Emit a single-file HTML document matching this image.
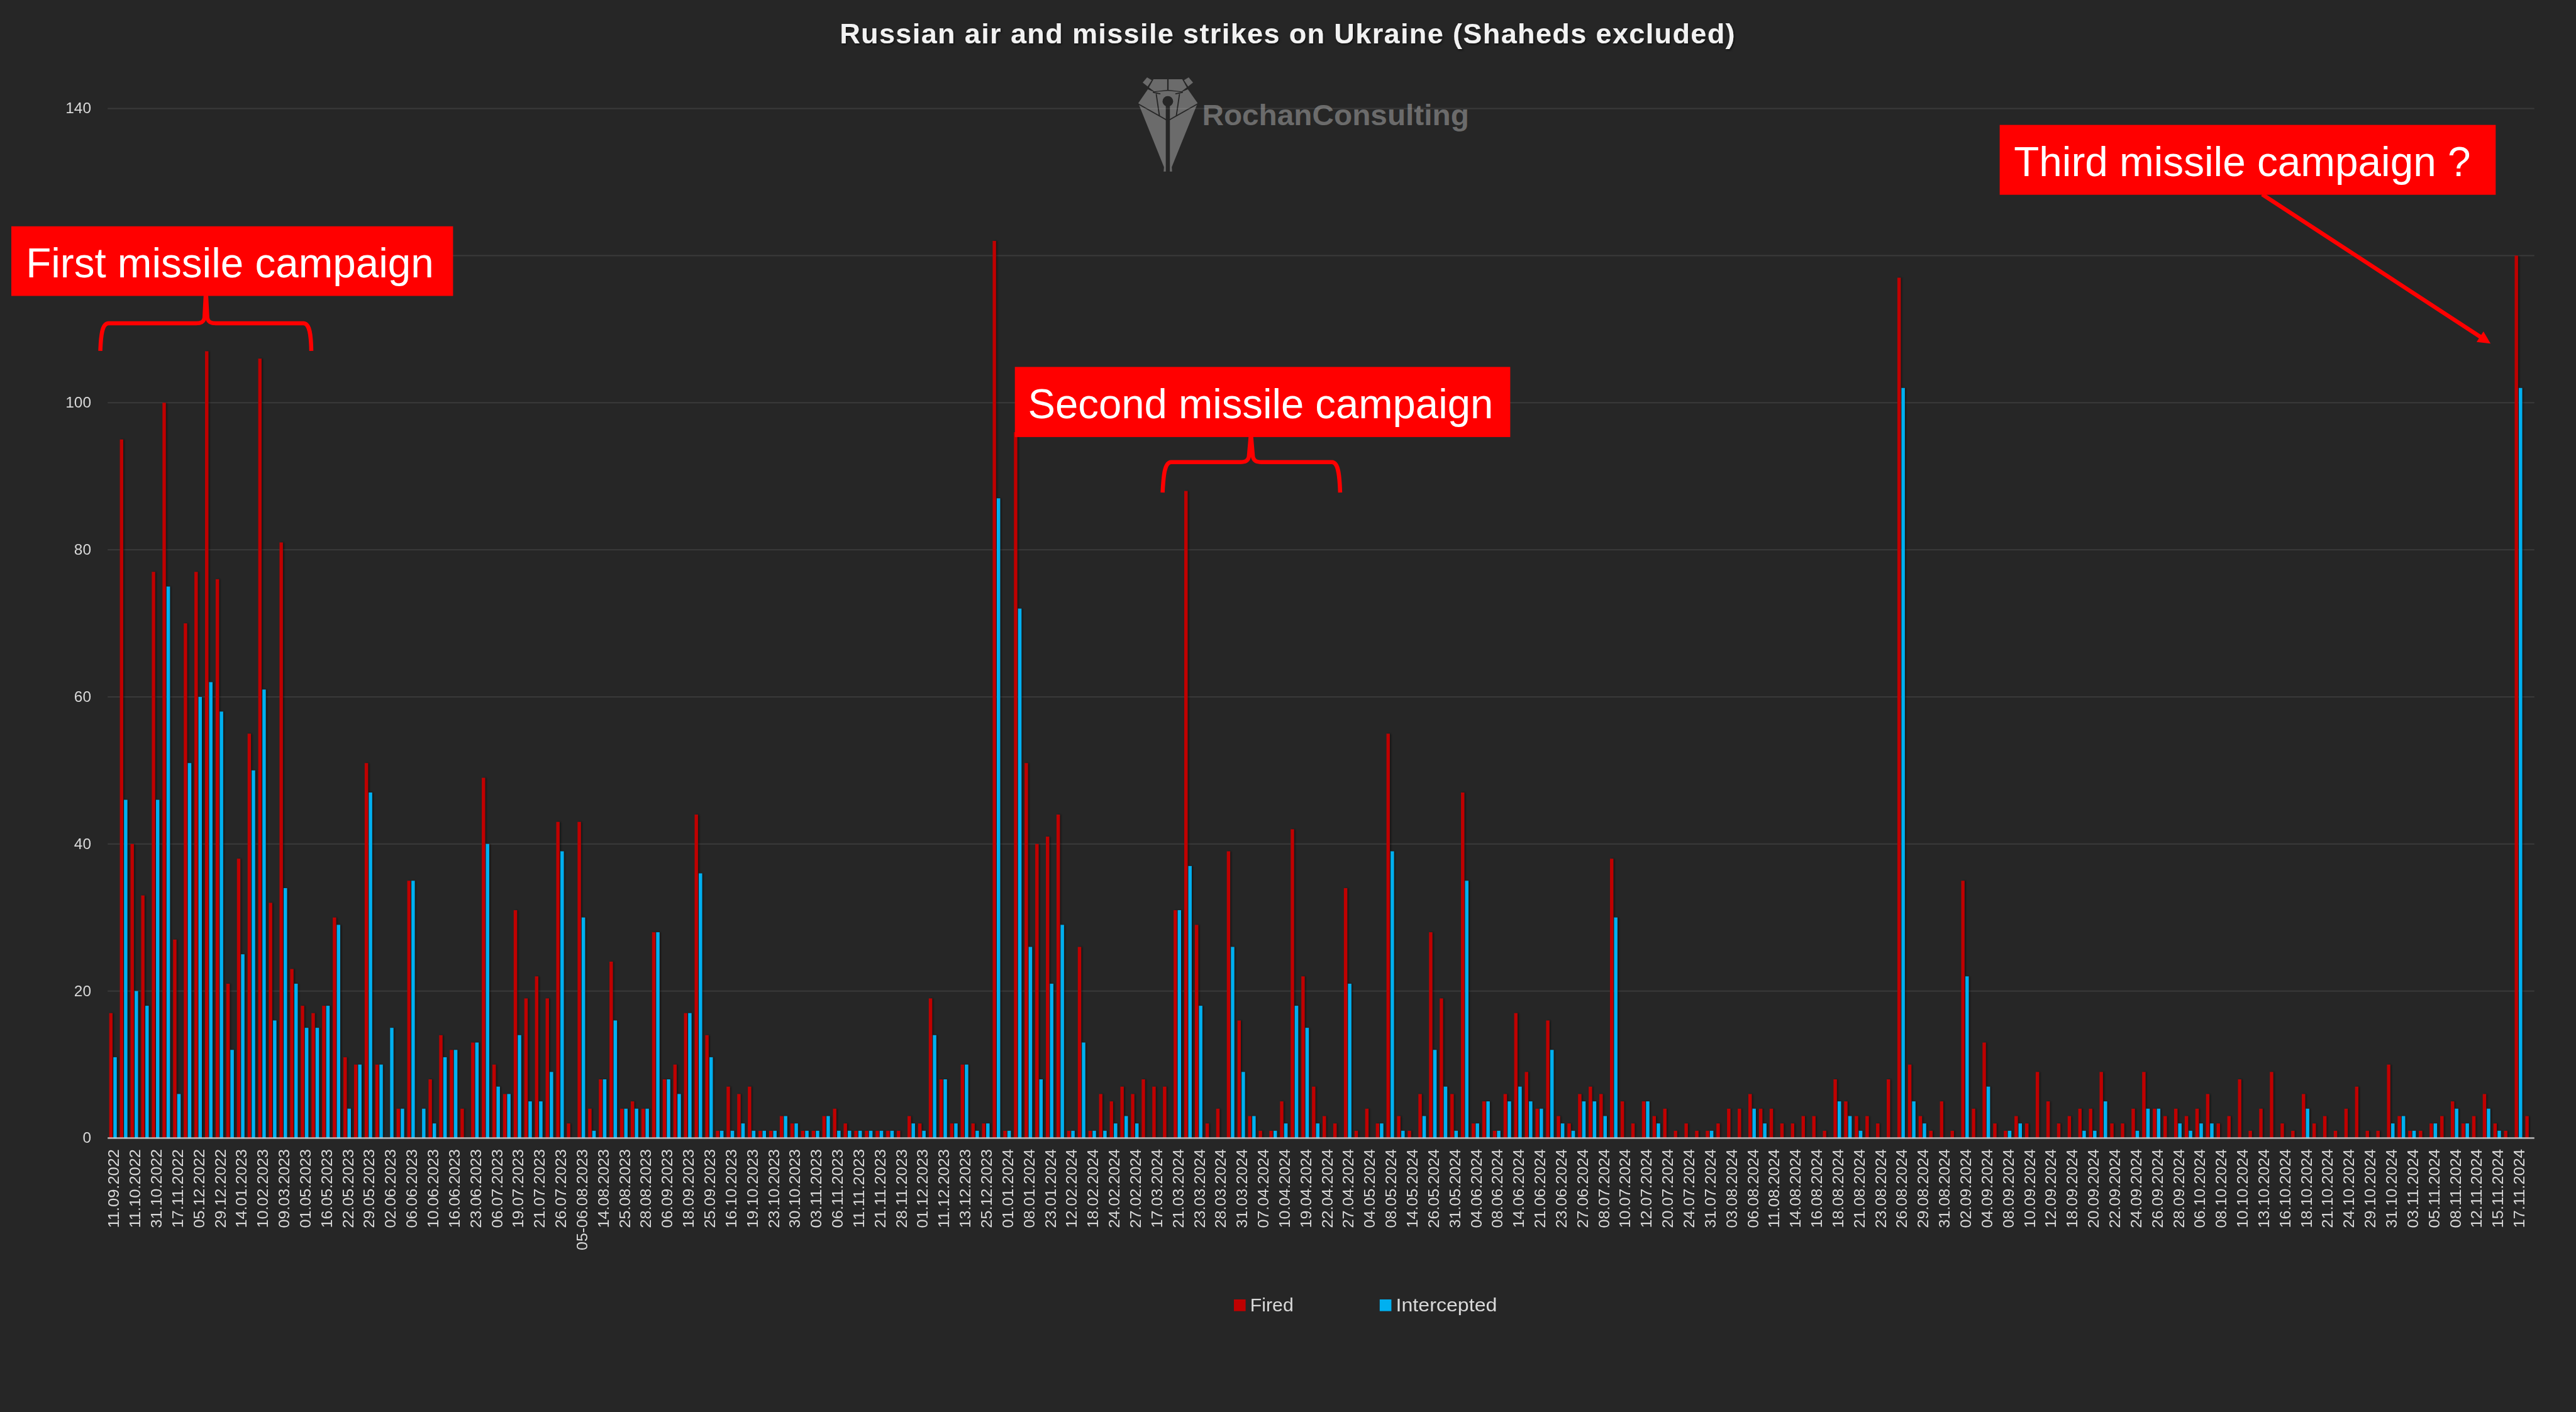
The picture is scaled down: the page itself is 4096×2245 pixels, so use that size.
<!DOCTYPE html><html><head><meta charset="utf-8"><title>Russian air and missile strikes on Ukraine (Shaheds excluded)</title>
<style>html,body{margin:0;padding:0;background:#262626;}body{width:4096px;height:2245px;overflow:hidden;}svg{display:block;}.ov{position:absolute;left:0;top:0;will-change:transform;}text{font-family:"Liberation Sans", Arial, sans-serif;}</style></head><body>
<svg width="4096" height="2245" viewBox="0 0 4096 2245">
<rect x="0" y="0" width="4096" height="2245" fill="#262626"/>
<g id="logo">
<svg x="1800" y="115" width="110" height="165" viewBox="0 0 941 1412">
<g fill="#6B6B6B">
<polygon points="145,140 205,68 268,108 212,192"/>
<polygon points="830,140 770,68 707,108 763,192"/>
<polygon points="230,205 292,95 478,95 478,240 300,258"/>
<polygon points="497,95 683,95 745,205 675,258 497,240"/>
<polygon points="85,420 215,232 300,268 487,252 675,268 760,232 892,420 540,1290 545,1350 510,1350 487,1300 465,1350 430,1350 435,1290"/>
</g>
<g stroke="#262626" stroke-width="16" fill="none" stroke-linecap="round">
<polyline points="80,428 470,648"/><polyline points="895,428 505,648"/>
<polyline points="330,300 372,590"/><polyline points="645,300 603,590"/>
<polyline points="290,272 380,292"/><polyline points="595,292 685,272"/>
</g>
<circle cx="487" cy="395" r="72" fill="#262626"/>
<rect x="459" y="430" width="56" height="935" fill="#262626"/>
</svg>
<text x="1911.4" y="199.2" font-size="46" font-weight="bold" fill="#6B6B6B" textLength="424.5" lengthAdjust="spacingAndGlyphs">RochanConsulting</text>
</g>
<rect x="171.2" y="1574.74" width="3858.6" height="2" fill="#FFFFFF" fill-opacity="0.095"/>
<rect x="171.2" y="1340.88" width="3858.6" height="2" fill="#FFFFFF" fill-opacity="0.095"/>
<rect x="171.2" y="1107.02" width="3858.6" height="2" fill="#FFFFFF" fill-opacity="0.095"/>
<rect x="171.2" y="873.16" width="3858.6" height="2" fill="#FFFFFF" fill-opacity="0.095"/>
<rect x="171.2" y="639.3" width="3858.6" height="2" fill="#FFFFFF" fill-opacity="0.095"/>
<rect x="171.2" y="405.44" width="3858.6" height="2" fill="#FFFFFF" fill-opacity="0.095"/>
<rect x="171.2" y="171.58" width="3858.6" height="2" fill="#FFFFFF" fill-opacity="0.095"/>
<defs><filter id="sh" x="-0.01" y="-0.01" width="1.02" height="1.02"><feDropShadow dx="2" dy="0" stdDeviation="1.6" flood-color="#000" flood-opacity="0.45"/></filter></defs>
<g filter="url(#sh)">
<rect x="173.7" y="1610.82" width="5.3" height="198.78" fill="#C00000"/>
<rect x="180.3" y="1680.98" width="5.3" height="128.62" fill="#00B0F0"/>
<rect x="190.62" y="698.76" width="5.3" height="1110.84" fill="#C00000"/>
<rect x="197.22" y="1271.72" width="5.3" height="537.88" fill="#00B0F0"/>
<rect x="207.55" y="1341.88" width="5.3" height="467.72" fill="#C00000"/>
<rect x="214.15" y="1575.74" width="5.3" height="233.86" fill="#00B0F0"/>
<rect x="224.47" y="1423.73" width="5.3" height="385.87" fill="#C00000"/>
<rect x="231.07" y="1599.13" width="5.3" height="210.47" fill="#00B0F0"/>
<rect x="241.4" y="909.24" width="5.3" height="900.36" fill="#C00000"/>
<rect x="248" y="1271.72" width="5.3" height="537.88" fill="#00B0F0"/>
<rect x="258.32" y="640.3" width="5.3" height="1169.3" fill="#C00000"/>
<rect x="264.92" y="932.62" width="5.3" height="876.98" fill="#00B0F0"/>
<rect x="275.24" y="1493.89" width="5.3" height="315.71" fill="#C00000"/>
<rect x="281.84" y="1739.44" width="5.3" height="70.16" fill="#00B0F0"/>
<rect x="292.17" y="991.09" width="5.3" height="818.51" fill="#C00000"/>
<rect x="298.77" y="1213.26" width="5.3" height="596.34" fill="#00B0F0"/>
<rect x="309.09" y="909.24" width="5.3" height="900.36" fill="#C00000"/>
<rect x="315.69" y="1108.02" width="5.3" height="701.58" fill="#00B0F0"/>
<rect x="326.02" y="558.45" width="5.3" height="1251.15" fill="#C00000"/>
<rect x="332.62" y="1084.63" width="5.3" height="724.97" fill="#00B0F0"/>
<rect x="342.94" y="920.93" width="5.3" height="888.67" fill="#C00000"/>
<rect x="349.54" y="1131.41" width="5.3" height="678.19" fill="#00B0F0"/>
<rect x="359.86" y="1564.05" width="5.3" height="245.55" fill="#C00000"/>
<rect x="366.46" y="1669.28" width="5.3" height="140.32" fill="#00B0F0"/>
<rect x="376.79" y="1365.27" width="5.3" height="444.33" fill="#C00000"/>
<rect x="383.39" y="1517.27" width="5.3" height="292.32" fill="#00B0F0"/>
<rect x="393.71" y="1166.48" width="5.3" height="643.12" fill="#C00000"/>
<rect x="400.31" y="1224.95" width="5.3" height="584.65" fill="#00B0F0"/>
<rect x="410.64" y="570.14" width="5.3" height="1239.46" fill="#C00000"/>
<rect x="417.24" y="1096.33" width="5.3" height="713.27" fill="#00B0F0"/>
<rect x="427.56" y="1435.42" width="5.3" height="374.18" fill="#C00000"/>
<rect x="434.16" y="1622.51" width="5.3" height="187.09" fill="#00B0F0"/>
<rect x="444.48" y="862.47" width="5.3" height="947.13" fill="#C00000"/>
<rect x="451.08" y="1412.04" width="5.3" height="397.56" fill="#00B0F0"/>
<rect x="461.41" y="1540.66" width="5.3" height="268.94" fill="#C00000"/>
<rect x="468.01" y="1564.05" width="5.3" height="245.55" fill="#00B0F0"/>
<rect x="478.33" y="1599.13" width="5.3" height="210.47" fill="#C00000"/>
<rect x="484.93" y="1634.2" width="5.3" height="175.39" fill="#00B0F0"/>
<rect x="495.26" y="1610.82" width="5.3" height="198.78" fill="#C00000"/>
<rect x="501.86" y="1634.2" width="5.3" height="175.39" fill="#00B0F0"/>
<rect x="512.18" y="1599.13" width="5.3" height="210.47" fill="#C00000"/>
<rect x="518.78" y="1599.13" width="5.3" height="210.47" fill="#00B0F0"/>
<rect x="529.1" y="1458.81" width="5.3" height="350.79" fill="#C00000"/>
<rect x="535.7" y="1470.5" width="5.3" height="339.1" fill="#00B0F0"/>
<rect x="546.03" y="1680.98" width="5.3" height="128.62" fill="#C00000"/>
<rect x="552.63" y="1762.83" width="5.3" height="46.77" fill="#00B0F0"/>
<rect x="562.95" y="1692.67" width="5.3" height="116.93" fill="#C00000"/>
<rect x="569.55" y="1692.67" width="5.3" height="116.93" fill="#00B0F0"/>
<rect x="579.88" y="1213.26" width="5.3" height="596.34" fill="#C00000"/>
<rect x="586.48" y="1260.03" width="5.3" height="549.57" fill="#00B0F0"/>
<rect x="596.8" y="1692.67" width="5.3" height="116.93" fill="#C00000"/>
<rect x="603.4" y="1692.67" width="5.3" height="116.93" fill="#00B0F0"/>
<rect x="620.32" y="1634.2" width="5.3" height="175.39" fill="#00B0F0"/>
<rect x="630.65" y="1762.83" width="5.3" height="46.77" fill="#C00000"/>
<rect x="637.25" y="1762.83" width="5.3" height="46.77" fill="#00B0F0"/>
<rect x="647.57" y="1400.34" width="5.3" height="409.25" fill="#C00000"/>
<rect x="654.17" y="1400.34" width="5.3" height="409.25" fill="#00B0F0"/>
<rect x="671.1" y="1762.83" width="5.3" height="46.77" fill="#00B0F0"/>
<rect x="681.42" y="1716.06" width="5.3" height="93.54" fill="#C00000"/>
<rect x="688.02" y="1786.21" width="5.3" height="23.39" fill="#00B0F0"/>
<rect x="698.34" y="1645.9" width="5.3" height="163.7" fill="#C00000"/>
<rect x="704.94" y="1680.98" width="5.3" height="128.62" fill="#00B0F0"/>
<rect x="715.27" y="1669.28" width="5.3" height="140.32" fill="#C00000"/>
<rect x="721.87" y="1669.28" width="5.3" height="140.32" fill="#00B0F0"/>
<rect x="732.19" y="1762.83" width="5.3" height="46.77" fill="#C00000"/>
<rect x="749.12" y="1657.59" width="5.3" height="152.01" fill="#C00000"/>
<rect x="755.72" y="1657.59" width="5.3" height="152.01" fill="#00B0F0"/>
<rect x="766.04" y="1236.64" width="5.3" height="572.96" fill="#C00000"/>
<rect x="772.64" y="1341.88" width="5.3" height="467.72" fill="#00B0F0"/>
<rect x="782.96" y="1692.67" width="5.3" height="116.93" fill="#C00000"/>
<rect x="789.56" y="1727.75" width="5.3" height="81.85" fill="#00B0F0"/>
<rect x="799.89" y="1739.44" width="5.3" height="70.16" fill="#C00000"/>
<rect x="806.49" y="1739.44" width="5.3" height="70.16" fill="#00B0F0"/>
<rect x="816.81" y="1447.12" width="5.3" height="362.48" fill="#C00000"/>
<rect x="823.41" y="1645.9" width="5.3" height="163.7" fill="#00B0F0"/>
<rect x="833.74" y="1587.43" width="5.3" height="222.17" fill="#C00000"/>
<rect x="840.34" y="1751.13" width="5.3" height="58.46" fill="#00B0F0"/>
<rect x="850.66" y="1552.35" width="5.3" height="257.25" fill="#C00000"/>
<rect x="857.26" y="1751.13" width="5.3" height="58.46" fill="#00B0F0"/>
<rect x="867.58" y="1587.43" width="5.3" height="222.17" fill="#C00000"/>
<rect x="874.18" y="1704.36" width="5.3" height="105.24" fill="#00B0F0"/>
<rect x="884.51" y="1306.8" width="5.3" height="502.8" fill="#C00000"/>
<rect x="891.11" y="1353.57" width="5.3" height="456.03" fill="#00B0F0"/>
<rect x="901.43" y="1786.21" width="5.3" height="23.39" fill="#C00000"/>
<rect x="918.36" y="1306.8" width="5.3" height="502.8" fill="#C00000"/>
<rect x="924.96" y="1458.81" width="5.3" height="350.79" fill="#00B0F0"/>
<rect x="935.28" y="1762.83" width="5.3" height="46.77" fill="#C00000"/>
<rect x="941.88" y="1797.91" width="5.3" height="11.69" fill="#00B0F0"/>
<rect x="952.2" y="1716.06" width="5.3" height="93.54" fill="#C00000"/>
<rect x="958.8" y="1716.06" width="5.3" height="93.54" fill="#00B0F0"/>
<rect x="969.13" y="1528.97" width="5.3" height="280.63" fill="#C00000"/>
<rect x="975.73" y="1622.51" width="5.3" height="187.09" fill="#00B0F0"/>
<rect x="986.05" y="1762.83" width="5.3" height="46.77" fill="#C00000"/>
<rect x="992.65" y="1762.83" width="5.3" height="46.77" fill="#00B0F0"/>
<rect x="1002.98" y="1751.13" width="5.3" height="58.46" fill="#C00000"/>
<rect x="1009.58" y="1762.83" width="5.3" height="46.77" fill="#00B0F0"/>
<rect x="1019.9" y="1762.83" width="5.3" height="46.77" fill="#C00000"/>
<rect x="1026.5" y="1762.83" width="5.3" height="46.77" fill="#00B0F0"/>
<rect x="1036.82" y="1482.2" width="5.3" height="327.4" fill="#C00000"/>
<rect x="1043.42" y="1482.2" width="5.3" height="327.4" fill="#00B0F0"/>
<rect x="1053.75" y="1716.06" width="5.3" height="93.54" fill="#C00000"/>
<rect x="1060.35" y="1716.06" width="5.3" height="93.54" fill="#00B0F0"/>
<rect x="1070.67" y="1692.67" width="5.3" height="116.93" fill="#C00000"/>
<rect x="1077.27" y="1739.44" width="5.3" height="70.16" fill="#00B0F0"/>
<rect x="1087.6" y="1610.82" width="5.3" height="198.78" fill="#C00000"/>
<rect x="1094.2" y="1610.82" width="5.3" height="198.78" fill="#00B0F0"/>
<rect x="1104.52" y="1295.11" width="5.3" height="514.49" fill="#C00000"/>
<rect x="1111.12" y="1388.65" width="5.3" height="420.95" fill="#00B0F0"/>
<rect x="1121.44" y="1645.9" width="5.3" height="163.7" fill="#C00000"/>
<rect x="1128.04" y="1680.98" width="5.3" height="128.62" fill="#00B0F0"/>
<rect x="1138.37" y="1797.91" width="5.3" height="11.69" fill="#C00000"/>
<rect x="1144.97" y="1797.91" width="5.3" height="11.69" fill="#00B0F0"/>
<rect x="1155.29" y="1727.75" width="5.3" height="81.85" fill="#C00000"/>
<rect x="1161.89" y="1797.91" width="5.3" height="11.69" fill="#00B0F0"/>
<rect x="1172.22" y="1739.44" width="5.3" height="70.16" fill="#C00000"/>
<rect x="1178.82" y="1786.21" width="5.3" height="23.39" fill="#00B0F0"/>
<rect x="1189.14" y="1727.75" width="5.3" height="81.85" fill="#C00000"/>
<rect x="1195.74" y="1797.91" width="5.3" height="11.69" fill="#00B0F0"/>
<rect x="1206.06" y="1797.91" width="5.3" height="11.69" fill="#C00000"/>
<rect x="1212.66" y="1797.91" width="5.3" height="11.69" fill="#00B0F0"/>
<rect x="1222.99" y="1797.91" width="5.3" height="11.69" fill="#C00000"/>
<rect x="1229.59" y="1797.91" width="5.3" height="11.69" fill="#00B0F0"/>
<rect x="1239.91" y="1774.52" width="5.3" height="35.08" fill="#C00000"/>
<rect x="1246.51" y="1774.52" width="5.3" height="35.08" fill="#00B0F0"/>
<rect x="1256.84" y="1786.21" width="5.3" height="23.39" fill="#C00000"/>
<rect x="1263.44" y="1786.21" width="5.3" height="23.39" fill="#00B0F0"/>
<rect x="1273.76" y="1797.91" width="5.3" height="11.69" fill="#C00000"/>
<rect x="1280.36" y="1797.91" width="5.3" height="11.69" fill="#00B0F0"/>
<rect x="1290.68" y="1797.91" width="5.3" height="11.69" fill="#C00000"/>
<rect x="1297.28" y="1797.91" width="5.3" height="11.69" fill="#00B0F0"/>
<rect x="1307.61" y="1774.52" width="5.3" height="35.08" fill="#C00000"/>
<rect x="1314.21" y="1774.52" width="5.3" height="35.08" fill="#00B0F0"/>
<rect x="1324.53" y="1762.83" width="5.3" height="46.77" fill="#C00000"/>
<rect x="1331.13" y="1797.91" width="5.3" height="11.69" fill="#00B0F0"/>
<rect x="1341.46" y="1786.21" width="5.3" height="23.39" fill="#C00000"/>
<rect x="1348.06" y="1797.91" width="5.3" height="11.69" fill="#00B0F0"/>
<rect x="1358.38" y="1797.91" width="5.3" height="11.69" fill="#C00000"/>
<rect x="1364.98" y="1797.91" width="5.3" height="11.69" fill="#00B0F0"/>
<rect x="1375.3" y="1797.91" width="5.3" height="11.69" fill="#C00000"/>
<rect x="1381.9" y="1797.91" width="5.3" height="11.69" fill="#00B0F0"/>
<rect x="1392.23" y="1797.91" width="5.3" height="11.69" fill="#C00000"/>
<rect x="1398.83" y="1797.91" width="5.3" height="11.69" fill="#00B0F0"/>
<rect x="1409.15" y="1797.91" width="5.3" height="11.69" fill="#C00000"/>
<rect x="1415.75" y="1797.91" width="5.3" height="11.69" fill="#00B0F0"/>
<rect x="1426.08" y="1797.91" width="5.3" height="11.69" fill="#C00000"/>
<rect x="1443" y="1774.52" width="5.3" height="35.08" fill="#C00000"/>
<rect x="1449.6" y="1786.21" width="5.3" height="23.39" fill="#00B0F0"/>
<rect x="1459.92" y="1786.21" width="5.3" height="23.39" fill="#C00000"/>
<rect x="1466.52" y="1797.91" width="5.3" height="11.69" fill="#00B0F0"/>
<rect x="1476.85" y="1587.43" width="5.3" height="222.17" fill="#C00000"/>
<rect x="1483.45" y="1645.9" width="5.3" height="163.7" fill="#00B0F0"/>
<rect x="1493.77" y="1716.06" width="5.3" height="93.54" fill="#C00000"/>
<rect x="1500.37" y="1716.06" width="5.3" height="93.54" fill="#00B0F0"/>
<rect x="1510.7" y="1786.21" width="5.3" height="23.39" fill="#C00000"/>
<rect x="1517.3" y="1786.21" width="5.3" height="23.39" fill="#00B0F0"/>
<rect x="1527.62" y="1692.67" width="5.3" height="116.93" fill="#C00000"/>
<rect x="1534.22" y="1692.67" width="5.3" height="116.93" fill="#00B0F0"/>
<rect x="1544.54" y="1786.21" width="5.3" height="23.39" fill="#C00000"/>
<rect x="1551.14" y="1797.91" width="5.3" height="11.69" fill="#00B0F0"/>
<rect x="1561.47" y="1786.21" width="5.3" height="23.39" fill="#C00000"/>
<rect x="1568.07" y="1786.21" width="5.3" height="23.39" fill="#00B0F0"/>
<rect x="1578.39" y="383.05" width="5.3" height="1426.55" fill="#C00000"/>
<rect x="1584.99" y="792.31" width="5.3" height="1017.29" fill="#00B0F0"/>
<rect x="1595.32" y="1797.91" width="5.3" height="11.69" fill="#C00000"/>
<rect x="1601.92" y="1797.91" width="5.3" height="11.69" fill="#00B0F0"/>
<rect x="1612.24" y="687.07" width="5.3" height="1122.53" fill="#C00000"/>
<rect x="1618.84" y="967.7" width="5.3" height="841.9" fill="#00B0F0"/>
<rect x="1629.16" y="1213.26" width="5.3" height="596.34" fill="#C00000"/>
<rect x="1635.76" y="1505.58" width="5.3" height="304.02" fill="#00B0F0"/>
<rect x="1646.09" y="1341.88" width="5.3" height="467.72" fill="#C00000"/>
<rect x="1652.69" y="1716.06" width="5.3" height="93.54" fill="#00B0F0"/>
<rect x="1663.01" y="1330.19" width="5.3" height="479.41" fill="#C00000"/>
<rect x="1669.61" y="1564.05" width="5.3" height="245.55" fill="#00B0F0"/>
<rect x="1679.94" y="1295.11" width="5.3" height="514.49" fill="#C00000"/>
<rect x="1686.54" y="1470.5" width="5.3" height="339.1" fill="#00B0F0"/>
<rect x="1696.86" y="1797.91" width="5.3" height="11.69" fill="#C00000"/>
<rect x="1703.46" y="1797.91" width="5.3" height="11.69" fill="#00B0F0"/>
<rect x="1713.78" y="1505.58" width="5.3" height="304.02" fill="#C00000"/>
<rect x="1720.38" y="1657.59" width="5.3" height="152.01" fill="#00B0F0"/>
<rect x="1730.71" y="1797.91" width="5.3" height="11.69" fill="#C00000"/>
<rect x="1737.31" y="1797.91" width="5.3" height="11.69" fill="#00B0F0"/>
<rect x="1747.63" y="1739.44" width="5.3" height="70.16" fill="#C00000"/>
<rect x="1754.23" y="1797.91" width="5.3" height="11.69" fill="#00B0F0"/>
<rect x="1764.56" y="1751.13" width="5.3" height="58.46" fill="#C00000"/>
<rect x="1771.16" y="1786.21" width="5.3" height="23.39" fill="#00B0F0"/>
<rect x="1781.48" y="1727.75" width="5.3" height="81.85" fill="#C00000"/>
<rect x="1788.08" y="1774.52" width="5.3" height="35.08" fill="#00B0F0"/>
<rect x="1798.4" y="1739.44" width="5.3" height="70.16" fill="#C00000"/>
<rect x="1805" y="1786.21" width="5.3" height="23.39" fill="#00B0F0"/>
<rect x="1815.33" y="1716.06" width="5.3" height="93.54" fill="#C00000"/>
<rect x="1832.25" y="1727.75" width="5.3" height="81.85" fill="#C00000"/>
<rect x="1849.18" y="1727.75" width="5.3" height="81.85" fill="#C00000"/>
<rect x="1866.1" y="1447.12" width="5.3" height="362.48" fill="#C00000"/>
<rect x="1872.7" y="1447.12" width="5.3" height="362.48" fill="#00B0F0"/>
<rect x="1883.02" y="780.62" width="5.3" height="1028.98" fill="#C00000"/>
<rect x="1889.62" y="1376.96" width="5.3" height="432.64" fill="#00B0F0"/>
<rect x="1899.95" y="1470.5" width="5.3" height="339.1" fill="#C00000"/>
<rect x="1906.55" y="1599.13" width="5.3" height="210.47" fill="#00B0F0"/>
<rect x="1916.87" y="1786.21" width="5.3" height="23.39" fill="#C00000"/>
<rect x="1933.8" y="1762.83" width="5.3" height="46.77" fill="#C00000"/>
<rect x="1950.72" y="1353.57" width="5.3" height="456.03" fill="#C00000"/>
<rect x="1957.32" y="1505.58" width="5.3" height="304.02" fill="#00B0F0"/>
<rect x="1967.64" y="1622.51" width="5.3" height="187.09" fill="#C00000"/>
<rect x="1974.24" y="1704.36" width="5.3" height="105.24" fill="#00B0F0"/>
<rect x="1984.57" y="1774.52" width="5.3" height="35.08" fill="#C00000"/>
<rect x="1991.17" y="1774.52" width="5.3" height="35.08" fill="#00B0F0"/>
<rect x="2001.49" y="1797.91" width="5.3" height="11.69" fill="#C00000"/>
<rect x="2018.42" y="1797.91" width="5.3" height="11.69" fill="#C00000"/>
<rect x="2025.02" y="1797.91" width="5.3" height="11.69" fill="#00B0F0"/>
<rect x="2035.34" y="1751.13" width="5.3" height="58.46" fill="#C00000"/>
<rect x="2041.94" y="1786.21" width="5.3" height="23.39" fill="#00B0F0"/>
<rect x="2052.26" y="1318.49" width="5.3" height="491.11" fill="#C00000"/>
<rect x="2058.86" y="1599.13" width="5.3" height="210.47" fill="#00B0F0"/>
<rect x="2069.19" y="1552.35" width="5.3" height="257.25" fill="#C00000"/>
<rect x="2075.79" y="1634.2" width="5.3" height="175.39" fill="#00B0F0"/>
<rect x="2086.11" y="1727.75" width="5.3" height="81.85" fill="#C00000"/>
<rect x="2092.71" y="1786.21" width="5.3" height="23.39" fill="#00B0F0"/>
<rect x="2103.04" y="1774.52" width="5.3" height="35.08" fill="#C00000"/>
<rect x="2119.96" y="1786.21" width="5.3" height="23.39" fill="#C00000"/>
<rect x="2136.88" y="1412.04" width="5.3" height="397.56" fill="#C00000"/>
<rect x="2143.48" y="1564.05" width="5.3" height="245.55" fill="#00B0F0"/>
<rect x="2153.81" y="1797.91" width="5.3" height="11.69" fill="#C00000"/>
<rect x="2170.73" y="1762.83" width="5.3" height="46.77" fill="#C00000"/>
<rect x="2187.66" y="1786.21" width="5.3" height="23.39" fill="#C00000"/>
<rect x="2194.26" y="1786.21" width="5.3" height="23.39" fill="#00B0F0"/>
<rect x="2204.58" y="1166.48" width="5.3" height="643.12" fill="#C00000"/>
<rect x="2211.18" y="1353.57" width="5.3" height="456.03" fill="#00B0F0"/>
<rect x="2221.5" y="1774.52" width="5.3" height="35.08" fill="#C00000"/>
<rect x="2228.1" y="1797.91" width="5.3" height="11.69" fill="#00B0F0"/>
<rect x="2238.43" y="1797.91" width="5.3" height="11.69" fill="#C00000"/>
<rect x="2255.35" y="1739.44" width="5.3" height="70.16" fill="#C00000"/>
<rect x="2261.95" y="1774.52" width="5.3" height="35.08" fill="#00B0F0"/>
<rect x="2272.28" y="1482.2" width="5.3" height="327.4" fill="#C00000"/>
<rect x="2278.88" y="1669.28" width="5.3" height="140.32" fill="#00B0F0"/>
<rect x="2289.2" y="1587.43" width="5.3" height="222.17" fill="#C00000"/>
<rect x="2295.8" y="1727.75" width="5.3" height="81.85" fill="#00B0F0"/>
<rect x="2306.12" y="1739.44" width="5.3" height="70.16" fill="#C00000"/>
<rect x="2312.72" y="1797.91" width="5.3" height="11.69" fill="#00B0F0"/>
<rect x="2323.05" y="1260.03" width="5.3" height="549.57" fill="#C00000"/>
<rect x="2329.65" y="1400.34" width="5.3" height="409.25" fill="#00B0F0"/>
<rect x="2339.97" y="1786.21" width="5.3" height="23.39" fill="#C00000"/>
<rect x="2346.57" y="1786.21" width="5.3" height="23.39" fill="#00B0F0"/>
<rect x="2356.9" y="1751.13" width="5.3" height="58.46" fill="#C00000"/>
<rect x="2363.5" y="1751.13" width="5.3" height="58.46" fill="#00B0F0"/>
<rect x="2373.82" y="1797.91" width="5.3" height="11.69" fill="#C00000"/>
<rect x="2380.42" y="1797.91" width="5.3" height="11.69" fill="#00B0F0"/>
<rect x="2390.74" y="1739.44" width="5.3" height="70.16" fill="#C00000"/>
<rect x="2397.34" y="1751.13" width="5.3" height="58.46" fill="#00B0F0"/>
<rect x="2407.67" y="1610.82" width="5.3" height="198.78" fill="#C00000"/>
<rect x="2414.27" y="1727.75" width="5.3" height="81.85" fill="#00B0F0"/>
<rect x="2424.59" y="1704.36" width="5.3" height="105.24" fill="#C00000"/>
<rect x="2431.19" y="1751.13" width="5.3" height="58.46" fill="#00B0F0"/>
<rect x="2441.52" y="1762.83" width="5.3" height="46.77" fill="#C00000"/>
<rect x="2448.12" y="1762.83" width="5.3" height="46.77" fill="#00B0F0"/>
<rect x="2458.44" y="1622.51" width="5.3" height="187.09" fill="#C00000"/>
<rect x="2465.04" y="1669.28" width="5.3" height="140.32" fill="#00B0F0"/>
<rect x="2475.36" y="1774.52" width="5.3" height="35.08" fill="#C00000"/>
<rect x="2481.96" y="1786.21" width="5.3" height="23.39" fill="#00B0F0"/>
<rect x="2492.29" y="1786.21" width="5.3" height="23.39" fill="#C00000"/>
<rect x="2498.89" y="1797.91" width="5.3" height="11.69" fill="#00B0F0"/>
<rect x="2509.21" y="1739.44" width="5.3" height="70.16" fill="#C00000"/>
<rect x="2515.81" y="1751.13" width="5.3" height="58.46" fill="#00B0F0"/>
<rect x="2526.14" y="1727.75" width="5.3" height="81.85" fill="#C00000"/>
<rect x="2532.74" y="1751.13" width="5.3" height="58.46" fill="#00B0F0"/>
<rect x="2543.06" y="1739.44" width="5.3" height="70.16" fill="#C00000"/>
<rect x="2549.66" y="1774.52" width="5.3" height="35.08" fill="#00B0F0"/>
<rect x="2559.98" y="1365.27" width="5.3" height="444.33" fill="#C00000"/>
<rect x="2566.58" y="1458.81" width="5.3" height="350.79" fill="#00B0F0"/>
<rect x="2576.91" y="1751.13" width="5.3" height="58.46" fill="#C00000"/>
<rect x="2593.83" y="1786.21" width="5.3" height="23.39" fill="#C00000"/>
<rect x="2610.76" y="1751.13" width="5.3" height="58.46" fill="#C00000"/>
<rect x="2617.36" y="1751.13" width="5.3" height="58.46" fill="#00B0F0"/>
<rect x="2627.68" y="1774.52" width="5.3" height="35.08" fill="#C00000"/>
<rect x="2634.28" y="1786.21" width="5.3" height="23.39" fill="#00B0F0"/>
<rect x="2644.6" y="1762.83" width="5.3" height="46.77" fill="#C00000"/>
<rect x="2661.53" y="1797.91" width="5.3" height="11.69" fill="#C00000"/>
<rect x="2678.45" y="1786.21" width="5.3" height="23.39" fill="#C00000"/>
<rect x="2695.38" y="1797.91" width="5.3" height="11.69" fill="#C00000"/>
<rect x="2712.3" y="1797.91" width="5.3" height="11.69" fill="#C00000"/>
<rect x="2718.9" y="1797.91" width="5.3" height="11.69" fill="#00B0F0"/>
<rect x="2729.22" y="1786.21" width="5.3" height="23.39" fill="#C00000"/>
<rect x="2746.15" y="1762.83" width="5.3" height="46.77" fill="#C00000"/>
<rect x="2763.07" y="1762.83" width="5.3" height="46.77" fill="#C00000"/>
<rect x="2780" y="1739.44" width="5.3" height="70.16" fill="#C00000"/>
<rect x="2786.6" y="1762.83" width="5.3" height="46.77" fill="#00B0F0"/>
<rect x="2796.92" y="1762.83" width="5.3" height="46.77" fill="#C00000"/>
<rect x="2803.52" y="1786.21" width="5.3" height="23.39" fill="#00B0F0"/>
<rect x="2813.84" y="1762.83" width="5.3" height="46.77" fill="#C00000"/>
<rect x="2830.77" y="1786.21" width="5.3" height="23.39" fill="#C00000"/>
<rect x="2847.69" y="1786.21" width="5.3" height="23.39" fill="#C00000"/>
<rect x="2864.62" y="1774.52" width="5.3" height="35.08" fill="#C00000"/>
<rect x="2881.54" y="1774.52" width="5.3" height="35.08" fill="#C00000"/>
<rect x="2898.46" y="1797.91" width="5.3" height="11.69" fill="#C00000"/>
<rect x="2915.39" y="1716.06" width="5.3" height="93.54" fill="#C00000"/>
<rect x="2921.99" y="1751.13" width="5.3" height="58.46" fill="#00B0F0"/>
<rect x="2932.31" y="1751.13" width="5.3" height="58.46" fill="#C00000"/>
<rect x="2938.91" y="1774.52" width="5.3" height="35.08" fill="#00B0F0"/>
<rect x="2949.24" y="1774.52" width="5.3" height="35.08" fill="#C00000"/>
<rect x="2955.84" y="1797.91" width="5.3" height="11.69" fill="#00B0F0"/>
<rect x="2966.16" y="1774.52" width="5.3" height="35.08" fill="#C00000"/>
<rect x="2983.08" y="1786.21" width="5.3" height="23.39" fill="#C00000"/>
<rect x="3000.01" y="1716.06" width="5.3" height="93.54" fill="#C00000"/>
<rect x="3016.93" y="441.52" width="5.3" height="1368.08" fill="#C00000"/>
<rect x="3023.53" y="616.91" width="5.3" height="1192.69" fill="#00B0F0"/>
<rect x="3033.86" y="1692.67" width="5.3" height="116.93" fill="#C00000"/>
<rect x="3040.46" y="1751.13" width="5.3" height="58.46" fill="#00B0F0"/>
<rect x="3050.78" y="1774.52" width="5.3" height="35.08" fill="#C00000"/>
<rect x="3057.38" y="1786.21" width="5.3" height="23.39" fill="#00B0F0"/>
<rect x="3067.7" y="1797.91" width="5.3" height="11.69" fill="#C00000"/>
<rect x="3084.63" y="1751.13" width="5.3" height="58.46" fill="#C00000"/>
<rect x="3101.55" y="1797.91" width="5.3" height="11.69" fill="#C00000"/>
<rect x="3118.48" y="1400.34" width="5.3" height="409.25" fill="#C00000"/>
<rect x="3125.08" y="1552.35" width="5.3" height="257.25" fill="#00B0F0"/>
<rect x="3135.4" y="1762.83" width="5.3" height="46.77" fill="#C00000"/>
<rect x="3152.32" y="1657.59" width="5.3" height="152.01" fill="#C00000"/>
<rect x="3158.92" y="1727.75" width="5.3" height="81.85" fill="#00B0F0"/>
<rect x="3169.25" y="1786.21" width="5.3" height="23.39" fill="#C00000"/>
<rect x="3186.17" y="1797.91" width="5.3" height="11.69" fill="#C00000"/>
<rect x="3192.77" y="1797.91" width="5.3" height="11.69" fill="#00B0F0"/>
<rect x="3203.1" y="1774.52" width="5.3" height="35.08" fill="#C00000"/>
<rect x="3209.7" y="1786.21" width="5.3" height="23.39" fill="#00B0F0"/>
<rect x="3220.02" y="1786.21" width="5.3" height="23.39" fill="#C00000"/>
<rect x="3236.94" y="1704.36" width="5.3" height="105.24" fill="#C00000"/>
<rect x="3253.87" y="1751.13" width="5.3" height="58.46" fill="#C00000"/>
<rect x="3270.79" y="1786.21" width="5.3" height="23.39" fill="#C00000"/>
<rect x="3287.72" y="1774.52" width="5.3" height="35.08" fill="#C00000"/>
<rect x="3304.64" y="1762.83" width="5.3" height="46.77" fill="#C00000"/>
<rect x="3311.24" y="1797.91" width="5.3" height="11.69" fill="#00B0F0"/>
<rect x="3321.56" y="1762.83" width="5.3" height="46.77" fill="#C00000"/>
<rect x="3328.16" y="1797.91" width="5.3" height="11.69" fill="#00B0F0"/>
<rect x="3338.49" y="1704.36" width="5.3" height="105.24" fill="#C00000"/>
<rect x="3345.09" y="1751.13" width="5.3" height="58.46" fill="#00B0F0"/>
<rect x="3355.41" y="1786.21" width="5.3" height="23.39" fill="#C00000"/>
<rect x="3372.34" y="1786.21" width="5.3" height="23.39" fill="#C00000"/>
<rect x="3389.26" y="1762.83" width="5.3" height="46.77" fill="#C00000"/>
<rect x="3395.86" y="1797.91" width="5.3" height="11.69" fill="#00B0F0"/>
<rect x="3406.18" y="1704.36" width="5.3" height="105.24" fill="#C00000"/>
<rect x="3412.78" y="1762.83" width="5.3" height="46.77" fill="#00B0F0"/>
<rect x="3423.11" y="1762.83" width="5.3" height="46.77" fill="#C00000"/>
<rect x="3429.71" y="1762.83" width="5.3" height="46.77" fill="#00B0F0"/>
<rect x="3440.03" y="1774.52" width="5.3" height="35.08" fill="#C00000"/>
<rect x="3456.96" y="1762.83" width="5.3" height="46.77" fill="#C00000"/>
<rect x="3463.56" y="1786.21" width="5.3" height="23.39" fill="#00B0F0"/>
<rect x="3473.88" y="1774.52" width="5.3" height="35.08" fill="#C00000"/>
<rect x="3480.48" y="1797.91" width="5.3" height="11.69" fill="#00B0F0"/>
<rect x="3490.8" y="1762.83" width="5.3" height="46.77" fill="#C00000"/>
<rect x="3497.4" y="1786.21" width="5.3" height="23.39" fill="#00B0F0"/>
<rect x="3507.73" y="1739.44" width="5.3" height="70.16" fill="#C00000"/>
<rect x="3514.33" y="1786.21" width="5.3" height="23.39" fill="#00B0F0"/>
<rect x="3524.65" y="1786.21" width="5.3" height="23.39" fill="#C00000"/>
<rect x="3541.58" y="1774.52" width="5.3" height="35.08" fill="#C00000"/>
<rect x="3558.5" y="1716.06" width="5.3" height="93.54" fill="#C00000"/>
<rect x="3575.42" y="1797.91" width="5.3" height="11.69" fill="#C00000"/>
<rect x="3592.35" y="1762.83" width="5.3" height="46.77" fill="#C00000"/>
<rect x="3609.27" y="1704.36" width="5.3" height="105.24" fill="#C00000"/>
<rect x="3626.2" y="1786.21" width="5.3" height="23.39" fill="#C00000"/>
<rect x="3643.12" y="1797.91" width="5.3" height="11.69" fill="#C00000"/>
<rect x="3660.04" y="1739.44" width="5.3" height="70.16" fill="#C00000"/>
<rect x="3666.64" y="1762.83" width="5.3" height="46.77" fill="#00B0F0"/>
<rect x="3676.97" y="1786.21" width="5.3" height="23.39" fill="#C00000"/>
<rect x="3693.89" y="1774.52" width="5.3" height="35.08" fill="#C00000"/>
<rect x="3710.82" y="1797.91" width="5.3" height="11.69" fill="#C00000"/>
<rect x="3727.74" y="1762.83" width="5.3" height="46.77" fill="#C00000"/>
<rect x="3744.66" y="1727.75" width="5.3" height="81.85" fill="#C00000"/>
<rect x="3761.59" y="1797.91" width="5.3" height="11.69" fill="#C00000"/>
<rect x="3778.51" y="1797.91" width="5.3" height="11.69" fill="#C00000"/>
<rect x="3795.44" y="1692.67" width="5.3" height="116.93" fill="#C00000"/>
<rect x="3802.04" y="1786.21" width="5.3" height="23.39" fill="#00B0F0"/>
<rect x="3812.36" y="1774.52" width="5.3" height="35.08" fill="#C00000"/>
<rect x="3818.96" y="1774.52" width="5.3" height="35.08" fill="#00B0F0"/>
<rect x="3829.28" y="1797.91" width="5.3" height="11.69" fill="#C00000"/>
<rect x="3835.88" y="1797.91" width="5.3" height="11.69" fill="#00B0F0"/>
<rect x="3846.21" y="1797.91" width="5.3" height="11.69" fill="#C00000"/>
<rect x="3863.13" y="1786.21" width="5.3" height="23.39" fill="#C00000"/>
<rect x="3869.73" y="1786.21" width="5.3" height="23.39" fill="#00B0F0"/>
<rect x="3880.06" y="1774.52" width="5.3" height="35.08" fill="#C00000"/>
<rect x="3896.98" y="1751.13" width="5.3" height="58.46" fill="#C00000"/>
<rect x="3903.58" y="1762.83" width="5.3" height="46.77" fill="#00B0F0"/>
<rect x="3913.9" y="1786.21" width="5.3" height="23.39" fill="#C00000"/>
<rect x="3920.5" y="1786.21" width="5.3" height="23.39" fill="#00B0F0"/>
<rect x="3930.83" y="1774.52" width="5.3" height="35.08" fill="#C00000"/>
<rect x="3947.75" y="1739.44" width="5.3" height="70.16" fill="#C00000"/>
<rect x="3954.35" y="1762.83" width="5.3" height="46.77" fill="#00B0F0"/>
<rect x="3964.68" y="1786.21" width="5.3" height="23.39" fill="#C00000"/>
<rect x="3971.28" y="1797.91" width="5.3" height="11.69" fill="#00B0F0"/>
<rect x="3981.6" y="1797.91" width="5.3" height="11.69" fill="#C00000"/>
<rect x="3998.52" y="406.44" width="5.3" height="1403.16" fill="#C00000"/>
<rect x="4005.12" y="616.91" width="5.3" height="1192.69" fill="#00B0F0"/>
<rect x="4015.45" y="1774.52" width="5.3" height="35.08" fill="#C00000"/>
</g>
<rect x="171.2" y="1808" width="3858.6" height="3" fill="#D7D7D7" fill-opacity="0.7"/>
<g fill="none" stroke="#FF0000" stroke-width="6.5">
<path d="M159.5 557.9 C160.5 532 162.5 515 172 514.1 L312 514.1 C319.5 514.1 323.8 512.4 325.1 505.5 L327 470"/>
<path d="M327.8 470 L329.7 505.5 C331 512.4 335.3 514.1 343 514.1 L483 514.1 C492.5 515 494.5 532 495 557.9"/>
<path d="M1848.6 783.2 C1850 755 1852 735 1862 734.7 L1972 734.7 C1980 734.7 1984.5 733 1985.8 726 L1988.6 694"/>
<path d="M1989.4 694 L1992.2 726 C1993.5 733 1998 734.7 2006 734.7 L2118 734.7 C2128 735 2130 755 2130.9 783.2"/>
</g>
<line x1="3597" y1="309" x2="3945" y2="536.3" stroke="#FF0000" stroke-width="6.5"/>
<polygon points="3960.2,546.2 3948.85,526.9 3937.95,543.7" fill="#FF0000"/>
<rect x="1962" y="2066" width="18.6" height="18.6" fill="#C00000"/>
<rect x="2193.8" y="2066" width="18.6" height="18.6" fill="#00B0F0"/>
</svg>
<svg class="ov" width="4096" height="2245" viewBox="0 0 4096 2245">
<text x="145" y="1817.4" font-size="24.4" fill="#D9D9D9" text-anchor="end">0</text>
<text x="145" y="1583.54" font-size="24.4" fill="#D9D9D9" text-anchor="end">20</text>
<text x="145" y="1349.68" font-size="24.4" fill="#D9D9D9" text-anchor="end">40</text>
<text x="145" y="1115.82" font-size="24.4" fill="#D9D9D9" text-anchor="end">60</text>
<text x="145" y="881.96" font-size="24.4" fill="#D9D9D9" text-anchor="end">80</text>
<text x="145" y="648.1" font-size="24.4" fill="#D9D9D9" text-anchor="end">100</text>
<text x="145" y="414.24" font-size="24.4" fill="#D9D9D9" text-anchor="end">120</text>
<text x="145" y="180.38" font-size="24.4" fill="#D9D9D9" text-anchor="end">140</text>
<text transform="translate(189.26 1827) rotate(-90)" font-size="24.4" fill="#D9D9D9" text-anchor="end" textLength="125.4" lengthAdjust="spacingAndGlyphs">11.09.2022</text>
<text transform="translate(223.11 1827) rotate(-90)" font-size="24.4" fill="#D9D9D9" text-anchor="end" textLength="125.4" lengthAdjust="spacingAndGlyphs">11.10.2022</text>
<text transform="translate(256.96 1827) rotate(-90)" font-size="24.4" fill="#D9D9D9" text-anchor="end" textLength="125.4" lengthAdjust="spacingAndGlyphs">31.10.2022</text>
<text transform="translate(290.81 1827) rotate(-90)" font-size="24.4" fill="#D9D9D9" text-anchor="end" textLength="125.4" lengthAdjust="spacingAndGlyphs">17.11.2022</text>
<text transform="translate(324.65 1827) rotate(-90)" font-size="24.4" fill="#D9D9D9" text-anchor="end" textLength="125.4" lengthAdjust="spacingAndGlyphs">05.12.2022</text>
<text transform="translate(358.5 1827) rotate(-90)" font-size="24.4" fill="#D9D9D9" text-anchor="end" textLength="125.4" lengthAdjust="spacingAndGlyphs">29.12.2022</text>
<text transform="translate(392.35 1827) rotate(-90)" font-size="24.4" fill="#D9D9D9" text-anchor="end" textLength="125.4" lengthAdjust="spacingAndGlyphs">14.01.2023</text>
<text transform="translate(426.2 1827) rotate(-90)" font-size="24.4" fill="#D9D9D9" text-anchor="end" textLength="125.4" lengthAdjust="spacingAndGlyphs">10.02.2023</text>
<text transform="translate(460.05 1827) rotate(-90)" font-size="24.4" fill="#D9D9D9" text-anchor="end" textLength="125.4" lengthAdjust="spacingAndGlyphs">09.03.2023</text>
<text transform="translate(493.89 1827) rotate(-90)" font-size="24.4" fill="#D9D9D9" text-anchor="end" textLength="125.4" lengthAdjust="spacingAndGlyphs">01.05.2023</text>
<text transform="translate(527.74 1827) rotate(-90)" font-size="24.4" fill="#D9D9D9" text-anchor="end" textLength="125.4" lengthAdjust="spacingAndGlyphs">16.05.2023</text>
<text transform="translate(561.59 1827) rotate(-90)" font-size="24.4" fill="#D9D9D9" text-anchor="end" textLength="125.4" lengthAdjust="spacingAndGlyphs">22.05.2023</text>
<text transform="translate(595.44 1827) rotate(-90)" font-size="24.4" fill="#D9D9D9" text-anchor="end" textLength="125.4" lengthAdjust="spacingAndGlyphs">29.05.2023</text>
<text transform="translate(629.29 1827) rotate(-90)" font-size="24.4" fill="#D9D9D9" text-anchor="end" textLength="125.4" lengthAdjust="spacingAndGlyphs">02.06.2023</text>
<text transform="translate(663.13 1827) rotate(-90)" font-size="24.4" fill="#D9D9D9" text-anchor="end" textLength="125.4" lengthAdjust="spacingAndGlyphs">06.06.2023</text>
<text transform="translate(696.98 1827) rotate(-90)" font-size="24.4" fill="#D9D9D9" text-anchor="end" textLength="125.4" lengthAdjust="spacingAndGlyphs">10.06.2023</text>
<text transform="translate(730.83 1827) rotate(-90)" font-size="24.4" fill="#D9D9D9" text-anchor="end" textLength="125.4" lengthAdjust="spacingAndGlyphs">16.06.2023</text>
<text transform="translate(764.68 1827) rotate(-90)" font-size="24.4" fill="#D9D9D9" text-anchor="end" textLength="125.4" lengthAdjust="spacingAndGlyphs">23.06.2023</text>
<text transform="translate(798.53 1827) rotate(-90)" font-size="24.4" fill="#D9D9D9" text-anchor="end" textLength="125.4" lengthAdjust="spacingAndGlyphs">06.07.2023</text>
<text transform="translate(832.37 1827) rotate(-90)" font-size="24.4" fill="#D9D9D9" text-anchor="end" textLength="125.4" lengthAdjust="spacingAndGlyphs">19.07.2023</text>
<text transform="translate(866.22 1827) rotate(-90)" font-size="24.4" fill="#D9D9D9" text-anchor="end" textLength="125.4" lengthAdjust="spacingAndGlyphs">21.07.2023</text>
<text transform="translate(900.07 1827) rotate(-90)" font-size="24.4" fill="#D9D9D9" text-anchor="end" textLength="125.4" lengthAdjust="spacingAndGlyphs">26.07.2023</text>
<text transform="translate(933.92 1827) rotate(-90)" font-size="24.4" fill="#D9D9D9" text-anchor="end" textLength="161" lengthAdjust="spacingAndGlyphs">05-06.08.2023</text>
<text transform="translate(967.77 1827) rotate(-90)" font-size="24.4" fill="#D9D9D9" text-anchor="end" textLength="125.4" lengthAdjust="spacingAndGlyphs">14.08.2023</text>
<text transform="translate(1001.61 1827) rotate(-90)" font-size="24.4" fill="#D9D9D9" text-anchor="end" textLength="125.4" lengthAdjust="spacingAndGlyphs">25.08.2023</text>
<text transform="translate(1035.46 1827) rotate(-90)" font-size="24.4" fill="#D9D9D9" text-anchor="end" textLength="125.4" lengthAdjust="spacingAndGlyphs">28.08.2023</text>
<text transform="translate(1069.31 1827) rotate(-90)" font-size="24.4" fill="#D9D9D9" text-anchor="end" textLength="125.4" lengthAdjust="spacingAndGlyphs">06.09.2023</text>
<text transform="translate(1103.16 1827) rotate(-90)" font-size="24.4" fill="#D9D9D9" text-anchor="end" textLength="125.4" lengthAdjust="spacingAndGlyphs">18.09.2023</text>
<text transform="translate(1137.01 1827) rotate(-90)" font-size="24.4" fill="#D9D9D9" text-anchor="end" textLength="125.4" lengthAdjust="spacingAndGlyphs">25.09.2023</text>
<text transform="translate(1170.85 1827) rotate(-90)" font-size="24.4" fill="#D9D9D9" text-anchor="end" textLength="125.4" lengthAdjust="spacingAndGlyphs">16.10.2023</text>
<text transform="translate(1204.7 1827) rotate(-90)" font-size="24.4" fill="#D9D9D9" text-anchor="end" textLength="125.4" lengthAdjust="spacingAndGlyphs">19.10.2023</text>
<text transform="translate(1238.55 1827) rotate(-90)" font-size="24.4" fill="#D9D9D9" text-anchor="end" textLength="125.4" lengthAdjust="spacingAndGlyphs">23.10.2023</text>
<text transform="translate(1272.4 1827) rotate(-90)" font-size="24.4" fill="#D9D9D9" text-anchor="end" textLength="125.4" lengthAdjust="spacingAndGlyphs">30.10.2023</text>
<text transform="translate(1306.25 1827) rotate(-90)" font-size="24.4" fill="#D9D9D9" text-anchor="end" textLength="125.4" lengthAdjust="spacingAndGlyphs">03.11.2023</text>
<text transform="translate(1340.09 1827) rotate(-90)" font-size="24.4" fill="#D9D9D9" text-anchor="end" textLength="125.4" lengthAdjust="spacingAndGlyphs">06.11.2023</text>
<text transform="translate(1373.94 1827) rotate(-90)" font-size="24.4" fill="#D9D9D9" text-anchor="end" textLength="125.4" lengthAdjust="spacingAndGlyphs">11.11.2023</text>
<text transform="translate(1407.79 1827) rotate(-90)" font-size="24.4" fill="#D9D9D9" text-anchor="end" textLength="125.4" lengthAdjust="spacingAndGlyphs">21.11.2023</text>
<text transform="translate(1441.64 1827) rotate(-90)" font-size="24.4" fill="#D9D9D9" text-anchor="end" textLength="125.4" lengthAdjust="spacingAndGlyphs">28.11.2023</text>
<text transform="translate(1475.49 1827) rotate(-90)" font-size="24.4" fill="#D9D9D9" text-anchor="end" textLength="125.4" lengthAdjust="spacingAndGlyphs">01.12.2023</text>
<text transform="translate(1509.33 1827) rotate(-90)" font-size="24.4" fill="#D9D9D9" text-anchor="end" textLength="125.4" lengthAdjust="spacingAndGlyphs">11.12.2023</text>
<text transform="translate(1543.18 1827) rotate(-90)" font-size="24.4" fill="#D9D9D9" text-anchor="end" textLength="125.4" lengthAdjust="spacingAndGlyphs">13.12.2023</text>
<text transform="translate(1577.03 1827) rotate(-90)" font-size="24.4" fill="#D9D9D9" text-anchor="end" textLength="125.4" lengthAdjust="spacingAndGlyphs">25.12.2023</text>
<text transform="translate(1610.88 1827) rotate(-90)" font-size="24.4" fill="#D9D9D9" text-anchor="end" textLength="125.4" lengthAdjust="spacingAndGlyphs">01.01.2024</text>
<text transform="translate(1644.73 1827) rotate(-90)" font-size="24.4" fill="#D9D9D9" text-anchor="end" textLength="125.4" lengthAdjust="spacingAndGlyphs">08.01.2024</text>
<text transform="translate(1678.57 1827) rotate(-90)" font-size="24.4" fill="#D9D9D9" text-anchor="end" textLength="125.4" lengthAdjust="spacingAndGlyphs">23.01.2024</text>
<text transform="translate(1712.42 1827) rotate(-90)" font-size="24.4" fill="#D9D9D9" text-anchor="end" textLength="125.4" lengthAdjust="spacingAndGlyphs">12.02.2024</text>
<text transform="translate(1746.27 1827) rotate(-90)" font-size="24.4" fill="#D9D9D9" text-anchor="end" textLength="125.4" lengthAdjust="spacingAndGlyphs">18.02.2024</text>
<text transform="translate(1780.12 1827) rotate(-90)" font-size="24.4" fill="#D9D9D9" text-anchor="end" textLength="125.4" lengthAdjust="spacingAndGlyphs">24.02.2024</text>
<text transform="translate(1813.97 1827) rotate(-90)" font-size="24.4" fill="#D9D9D9" text-anchor="end" textLength="125.4" lengthAdjust="spacingAndGlyphs">27.02.2024</text>
<text transform="translate(1847.81 1827) rotate(-90)" font-size="24.4" fill="#D9D9D9" text-anchor="end" textLength="125.4" lengthAdjust="spacingAndGlyphs">17.03.2024</text>
<text transform="translate(1881.66 1827) rotate(-90)" font-size="24.4" fill="#D9D9D9" text-anchor="end" textLength="125.4" lengthAdjust="spacingAndGlyphs">21.03.2024</text>
<text transform="translate(1915.51 1827) rotate(-90)" font-size="24.4" fill="#D9D9D9" text-anchor="end" textLength="125.4" lengthAdjust="spacingAndGlyphs">23.03.2024</text>
<text transform="translate(1949.36 1827) rotate(-90)" font-size="24.4" fill="#D9D9D9" text-anchor="end" textLength="125.4" lengthAdjust="spacingAndGlyphs">28.03.2024</text>
<text transform="translate(1983.21 1827) rotate(-90)" font-size="24.4" fill="#D9D9D9" text-anchor="end" textLength="125.4" lengthAdjust="spacingAndGlyphs">31.03.2024</text>
<text transform="translate(2017.05 1827) rotate(-90)" font-size="24.4" fill="#D9D9D9" text-anchor="end" textLength="125.4" lengthAdjust="spacingAndGlyphs">07.04.2024</text>
<text transform="translate(2050.9 1827) rotate(-90)" font-size="24.4" fill="#D9D9D9" text-anchor="end" textLength="125.4" lengthAdjust="spacingAndGlyphs">10.04.2024</text>
<text transform="translate(2084.75 1827) rotate(-90)" font-size="24.4" fill="#D9D9D9" text-anchor="end" textLength="125.4" lengthAdjust="spacingAndGlyphs">19.04.2024</text>
<text transform="translate(2118.6 1827) rotate(-90)" font-size="24.4" fill="#D9D9D9" text-anchor="end" textLength="125.4" lengthAdjust="spacingAndGlyphs">22.04.2024</text>
<text transform="translate(2152.45 1827) rotate(-90)" font-size="24.4" fill="#D9D9D9" text-anchor="end" textLength="125.4" lengthAdjust="spacingAndGlyphs">27.04.2024</text>
<text transform="translate(2186.29 1827) rotate(-90)" font-size="24.4" fill="#D9D9D9" text-anchor="end" textLength="125.4" lengthAdjust="spacingAndGlyphs">04.05.2024</text>
<text transform="translate(2220.14 1827) rotate(-90)" font-size="24.4" fill="#D9D9D9" text-anchor="end" textLength="125.4" lengthAdjust="spacingAndGlyphs">08.05.2024</text>
<text transform="translate(2253.99 1827) rotate(-90)" font-size="24.4" fill="#D9D9D9" text-anchor="end" textLength="125.4" lengthAdjust="spacingAndGlyphs">14.05.2024</text>
<text transform="translate(2287.84 1827) rotate(-90)" font-size="24.4" fill="#D9D9D9" text-anchor="end" textLength="125.4" lengthAdjust="spacingAndGlyphs">26.05.2024</text>
<text transform="translate(2321.69 1827) rotate(-90)" font-size="24.4" fill="#D9D9D9" text-anchor="end" textLength="125.4" lengthAdjust="spacingAndGlyphs">31.05.2024</text>
<text transform="translate(2355.53 1827) rotate(-90)" font-size="24.4" fill="#D9D9D9" text-anchor="end" textLength="125.4" lengthAdjust="spacingAndGlyphs">04.06.2024</text>
<text transform="translate(2389.38 1827) rotate(-90)" font-size="24.4" fill="#D9D9D9" text-anchor="end" textLength="125.4" lengthAdjust="spacingAndGlyphs">08.06.2024</text>
<text transform="translate(2423.23 1827) rotate(-90)" font-size="24.4" fill="#D9D9D9" text-anchor="end" textLength="125.4" lengthAdjust="spacingAndGlyphs">14.06.2024</text>
<text transform="translate(2457.08 1827) rotate(-90)" font-size="24.4" fill="#D9D9D9" text-anchor="end" textLength="125.4" lengthAdjust="spacingAndGlyphs">21.06.2024</text>
<text transform="translate(2490.93 1827) rotate(-90)" font-size="24.4" fill="#D9D9D9" text-anchor="end" textLength="125.4" lengthAdjust="spacingAndGlyphs">23.06.2024</text>
<text transform="translate(2524.77 1827) rotate(-90)" font-size="24.4" fill="#D9D9D9" text-anchor="end" textLength="125.4" lengthAdjust="spacingAndGlyphs">27.06.2024</text>
<text transform="translate(2558.62 1827) rotate(-90)" font-size="24.4" fill="#D9D9D9" text-anchor="end" textLength="125.4" lengthAdjust="spacingAndGlyphs">08.07.2024</text>
<text transform="translate(2592.47 1827) rotate(-90)" font-size="24.4" fill="#D9D9D9" text-anchor="end" textLength="125.4" lengthAdjust="spacingAndGlyphs">10.07.2024</text>
<text transform="translate(2626.32 1827) rotate(-90)" font-size="24.4" fill="#D9D9D9" text-anchor="end" textLength="125.4" lengthAdjust="spacingAndGlyphs">12.07.2024</text>
<text transform="translate(2660.17 1827) rotate(-90)" font-size="24.4" fill="#D9D9D9" text-anchor="end" textLength="125.4" lengthAdjust="spacingAndGlyphs">20.07.2024</text>
<text transform="translate(2694.01 1827) rotate(-90)" font-size="24.4" fill="#D9D9D9" text-anchor="end" textLength="125.4" lengthAdjust="spacingAndGlyphs">24.07.2024</text>
<text transform="translate(2727.86 1827) rotate(-90)" font-size="24.4" fill="#D9D9D9" text-anchor="end" textLength="125.4" lengthAdjust="spacingAndGlyphs">31.07.2024</text>
<text transform="translate(2761.71 1827) rotate(-90)" font-size="24.4" fill="#D9D9D9" text-anchor="end" textLength="125.4" lengthAdjust="spacingAndGlyphs">03.08.2024</text>
<text transform="translate(2795.56 1827) rotate(-90)" font-size="24.4" fill="#D9D9D9" text-anchor="end" textLength="125.4" lengthAdjust="spacingAndGlyphs">06.08.2024</text>
<text transform="translate(2829.41 1827) rotate(-90)" font-size="24.4" fill="#D9D9D9" text-anchor="end" textLength="125.4" lengthAdjust="spacingAndGlyphs">11.08.2024</text>
<text transform="translate(2863.25 1827) rotate(-90)" font-size="24.4" fill="#D9D9D9" text-anchor="end" textLength="125.4" lengthAdjust="spacingAndGlyphs">14.08.2024</text>
<text transform="translate(2897.1 1827) rotate(-90)" font-size="24.4" fill="#D9D9D9" text-anchor="end" textLength="125.4" lengthAdjust="spacingAndGlyphs">16.08.2024</text>
<text transform="translate(2930.95 1827) rotate(-90)" font-size="24.4" fill="#D9D9D9" text-anchor="end" textLength="125.4" lengthAdjust="spacingAndGlyphs">18.08.2024</text>
<text transform="translate(2964.8 1827) rotate(-90)" font-size="24.4" fill="#D9D9D9" text-anchor="end" textLength="125.4" lengthAdjust="spacingAndGlyphs">21.08.2024</text>
<text transform="translate(2998.65 1827) rotate(-90)" font-size="24.4" fill="#D9D9D9" text-anchor="end" textLength="125.4" lengthAdjust="spacingAndGlyphs">23.08.2024</text>
<text transform="translate(3032.49 1827) rotate(-90)" font-size="24.4" fill="#D9D9D9" text-anchor="end" textLength="125.4" lengthAdjust="spacingAndGlyphs">26.08.2024</text>
<text transform="translate(3066.34 1827) rotate(-90)" font-size="24.4" fill="#D9D9D9" text-anchor="end" textLength="125.4" lengthAdjust="spacingAndGlyphs">29.08.2024</text>
<text transform="translate(3100.19 1827) rotate(-90)" font-size="24.4" fill="#D9D9D9" text-anchor="end" textLength="125.4" lengthAdjust="spacingAndGlyphs">31.08.2024</text>
<text transform="translate(3134.04 1827) rotate(-90)" font-size="24.4" fill="#D9D9D9" text-anchor="end" textLength="125.4" lengthAdjust="spacingAndGlyphs">02.09.2024</text>
<text transform="translate(3167.89 1827) rotate(-90)" font-size="24.4" fill="#D9D9D9" text-anchor="end" textLength="125.4" lengthAdjust="spacingAndGlyphs">04.09.2024</text>
<text transform="translate(3201.73 1827) rotate(-90)" font-size="24.4" fill="#D9D9D9" text-anchor="end" textLength="125.4" lengthAdjust="spacingAndGlyphs">08.09.2024</text>
<text transform="translate(3235.58 1827) rotate(-90)" font-size="24.4" fill="#D9D9D9" text-anchor="end" textLength="125.4" lengthAdjust="spacingAndGlyphs">10.09.2024</text>
<text transform="translate(3269.43 1827) rotate(-90)" font-size="24.4" fill="#D9D9D9" text-anchor="end" textLength="125.4" lengthAdjust="spacingAndGlyphs">12.09.2024</text>
<text transform="translate(3303.28 1827) rotate(-90)" font-size="24.4" fill="#D9D9D9" text-anchor="end" textLength="125.4" lengthAdjust="spacingAndGlyphs">18.09.2024</text>
<text transform="translate(3337.13 1827) rotate(-90)" font-size="24.4" fill="#D9D9D9" text-anchor="end" textLength="125.4" lengthAdjust="spacingAndGlyphs">20.09.2024</text>
<text transform="translate(3370.97 1827) rotate(-90)" font-size="24.4" fill="#D9D9D9" text-anchor="end" textLength="125.4" lengthAdjust="spacingAndGlyphs">22.09.2024</text>
<text transform="translate(3404.82 1827) rotate(-90)" font-size="24.4" fill="#D9D9D9" text-anchor="end" textLength="125.4" lengthAdjust="spacingAndGlyphs">24.09.2024</text>
<text transform="translate(3438.67 1827) rotate(-90)" font-size="24.4" fill="#D9D9D9" text-anchor="end" textLength="125.4" lengthAdjust="spacingAndGlyphs">26.09.2024</text>
<text transform="translate(3472.52 1827) rotate(-90)" font-size="24.4" fill="#D9D9D9" text-anchor="end" textLength="125.4" lengthAdjust="spacingAndGlyphs">28.09.2024</text>
<text transform="translate(3506.37 1827) rotate(-90)" font-size="24.4" fill="#D9D9D9" text-anchor="end" textLength="125.4" lengthAdjust="spacingAndGlyphs">06.10.2024</text>
<text transform="translate(3540.21 1827) rotate(-90)" font-size="24.4" fill="#D9D9D9" text-anchor="end" textLength="125.4" lengthAdjust="spacingAndGlyphs">08.10.2024</text>
<text transform="translate(3574.06 1827) rotate(-90)" font-size="24.4" fill="#D9D9D9" text-anchor="end" textLength="125.4" lengthAdjust="spacingAndGlyphs">10.10.2024</text>
<text transform="translate(3607.91 1827) rotate(-90)" font-size="24.4" fill="#D9D9D9" text-anchor="end" textLength="125.4" lengthAdjust="spacingAndGlyphs">13.10.2024</text>
<text transform="translate(3641.76 1827) rotate(-90)" font-size="24.4" fill="#D9D9D9" text-anchor="end" textLength="125.4" lengthAdjust="spacingAndGlyphs">16.10.2024</text>
<text transform="translate(3675.61 1827) rotate(-90)" font-size="24.4" fill="#D9D9D9" text-anchor="end" textLength="125.4" lengthAdjust="spacingAndGlyphs">18.10.2024</text>
<text transform="translate(3709.45 1827) rotate(-90)" font-size="24.4" fill="#D9D9D9" text-anchor="end" textLength="125.4" lengthAdjust="spacingAndGlyphs">21.10.2024</text>
<text transform="translate(3743.3 1827) rotate(-90)" font-size="24.4" fill="#D9D9D9" text-anchor="end" textLength="125.4" lengthAdjust="spacingAndGlyphs">24.10.2024</text>
<text transform="translate(3777.15 1827) rotate(-90)" font-size="24.4" fill="#D9D9D9" text-anchor="end" textLength="125.4" lengthAdjust="spacingAndGlyphs">29.10.2024</text>
<text transform="translate(3811 1827) rotate(-90)" font-size="24.4" fill="#D9D9D9" text-anchor="end" textLength="125.4" lengthAdjust="spacingAndGlyphs">31.10.2024</text>
<text transform="translate(3844.85 1827) rotate(-90)" font-size="24.4" fill="#D9D9D9" text-anchor="end" textLength="125.4" lengthAdjust="spacingAndGlyphs">03.11.2024</text>
<text transform="translate(3878.69 1827) rotate(-90)" font-size="24.4" fill="#D9D9D9" text-anchor="end" textLength="125.4" lengthAdjust="spacingAndGlyphs">05.11.2024</text>
<text transform="translate(3912.54 1827) rotate(-90)" font-size="24.4" fill="#D9D9D9" text-anchor="end" textLength="125.4" lengthAdjust="spacingAndGlyphs">08.11.2024</text>
<text transform="translate(3946.39 1827) rotate(-90)" font-size="24.4" fill="#D9D9D9" text-anchor="end" textLength="125.4" lengthAdjust="spacingAndGlyphs">12.11.2024</text>
<text transform="translate(3980.24 1827) rotate(-90)" font-size="24.4" fill="#D9D9D9" text-anchor="end" textLength="125.4" lengthAdjust="spacingAndGlyphs">15.11.2024</text>
<text transform="translate(4014.09 1827) rotate(-90)" font-size="24.4" fill="#D9D9D9" text-anchor="end" textLength="125.4" lengthAdjust="spacingAndGlyphs">17.11.2024</text>
<defs><filter id="tsh" x="-0.02" y="-0.3" width="1.04" height="1.6"><feDropShadow dx="1.5" dy="2" stdDeviation="1.5" flood-color="#000" flood-opacity="0.55"/></filter></defs>
<text filter="url(#tsh)" x="1335.2" y="69.4" font-size="45" font-weight="bold" fill="#F2F2F2" textLength="1423.4" lengthAdjust="spacing">Russian air and missile strikes on Ukraine (Shaheds excluded)</text>
<rect x="18" y="359.8" width="702.4" height="110.7" fill="#FF0000"/>
<text x="41.2" y="440.8" font-size="66" fill="#FFFFFF" textLength="648.5" lengthAdjust="spacingAndGlyphs">First missile campaign</text>
<rect x="1613.7" y="583.4" width="787.7" height="111.5" fill="#FF0000"/>
<text x="1634.6" y="664.6" font-size="66" fill="#FFFFFF" textLength="739.6" lengthAdjust="spacingAndGlyphs">Second missile campaign</text>
<rect x="3179.6" y="198.6" width="788.7" height="111.1" fill="#FF0000"/>
<text x="3202.2" y="279.6" font-size="66" fill="#FFFFFF" textLength="726.3" lengthAdjust="spacingAndGlyphs">Third missile campaign ?</text>
<text x="1987.8" y="2085.3" font-size="30" fill="#D9D9D9" textLength="69" lengthAdjust="spacingAndGlyphs">Fired</text>
<text x="2219.5" y="2085.3" font-size="30" fill="#D9D9D9" textLength="161" lengthAdjust="spacingAndGlyphs">Intercepted</text>
</svg></body></html>
